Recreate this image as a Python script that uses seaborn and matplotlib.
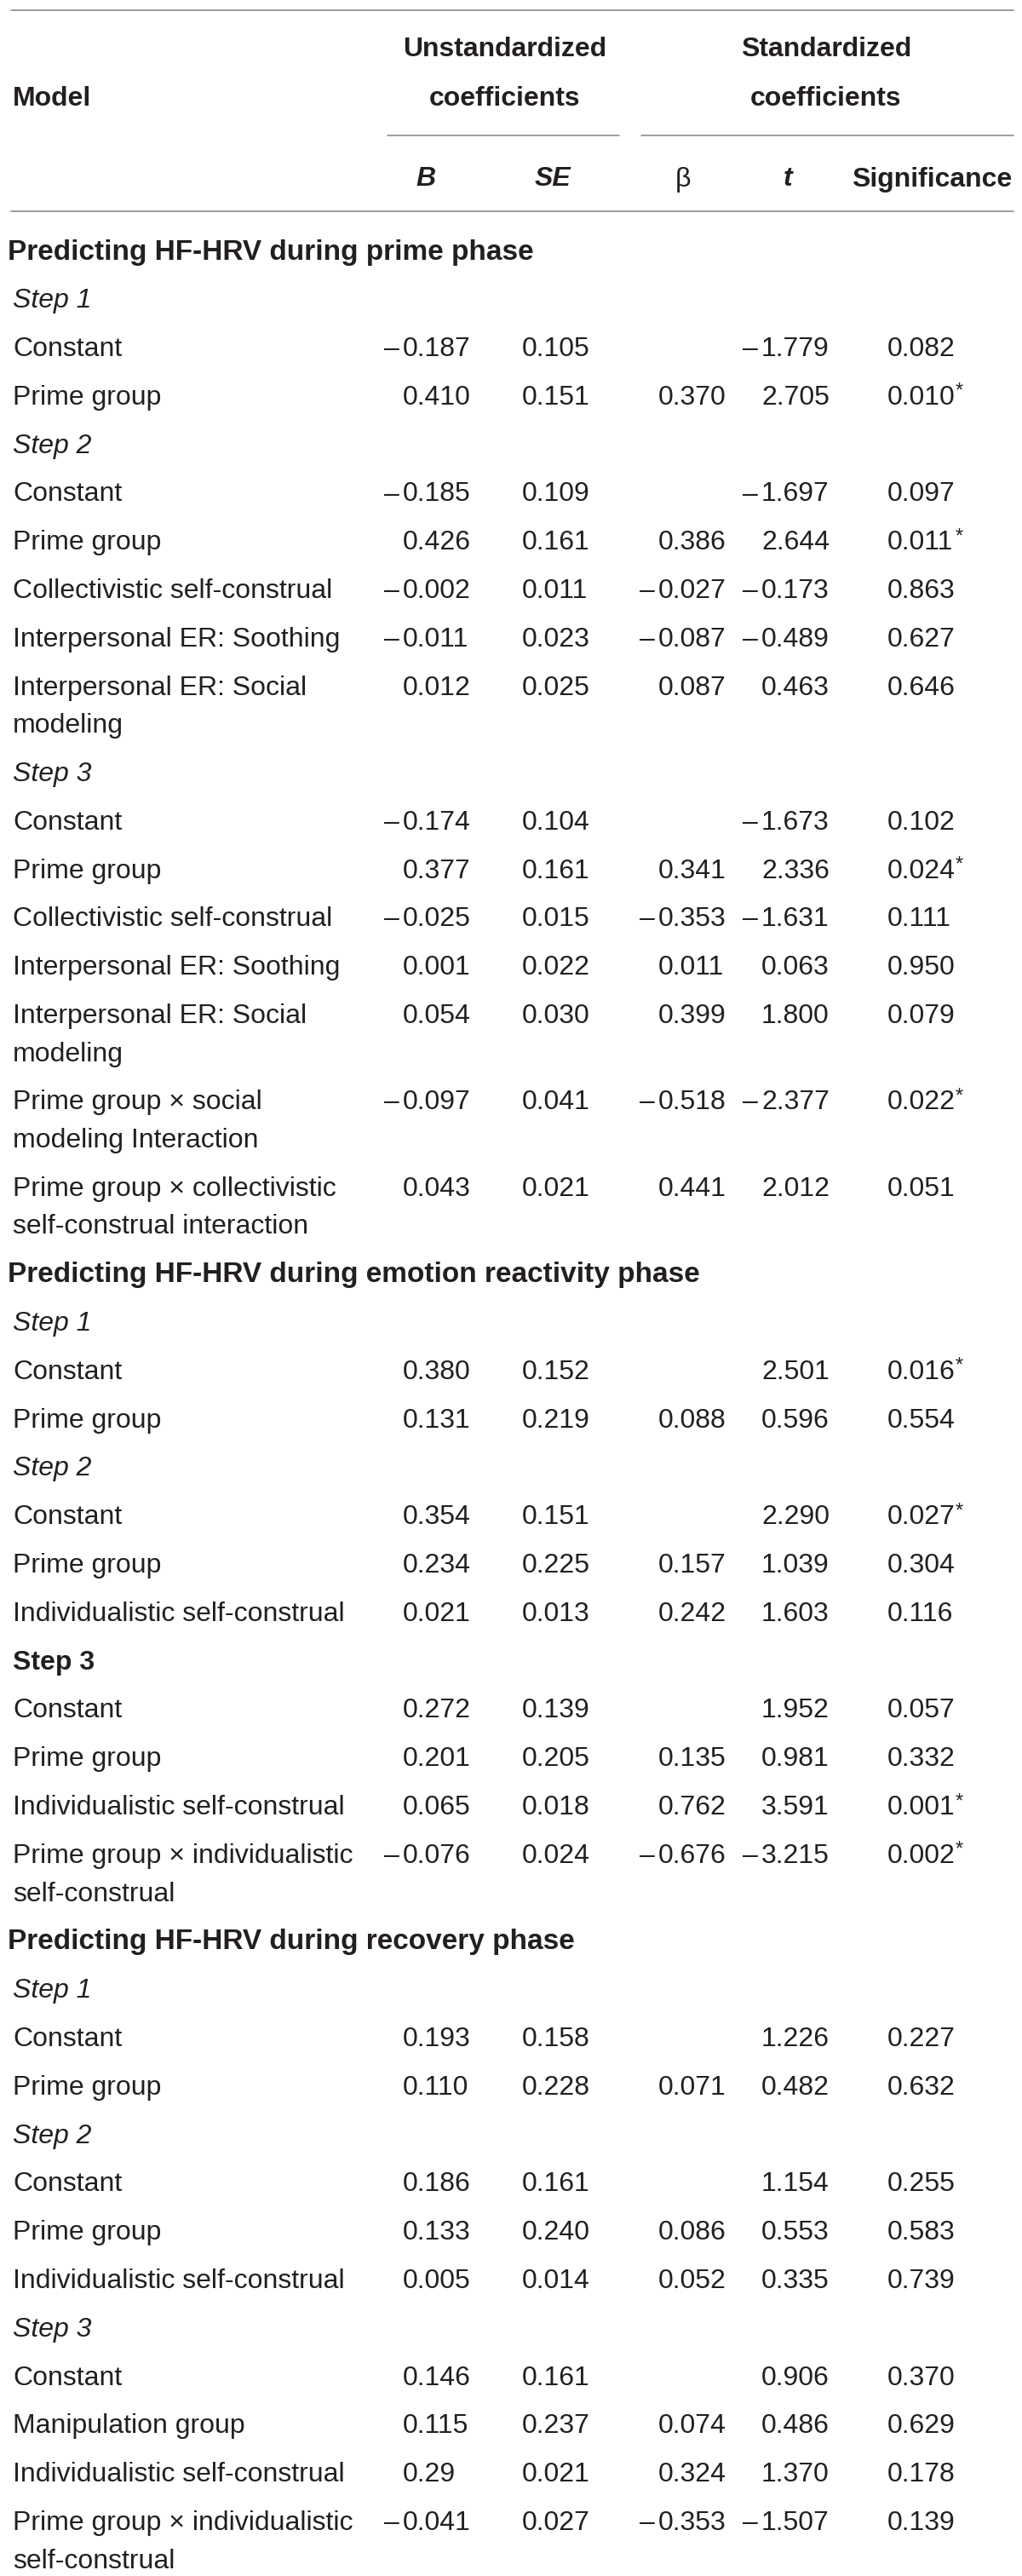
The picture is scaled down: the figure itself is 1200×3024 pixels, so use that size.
import matplotlib
matplotlib.use("Agg")
import matplotlib.pyplot as plt
import seaborn as sns

# table content, one entry per printed row
row_labels = [
    "Predicting HF-HRV during prime phase",
    "Step 1",
    "Constant",
    "Prime group",
    "Step 2",
    "Constant",
    "Prime group",
    "Collectivistic self-construal",
    "Interpersonal ER: Soothing",
    "Interpersonal ER: Social\nmodeling",
    "Step 3",
    "Constant",
    "Prime group",
    "Collectivistic self-construal",
    "Interpersonal ER: Soothing",
    "Interpersonal ER: Social\nmodeling",
    "Prime group \u00d7 social\nmodeling Interaction",
    "Prime group \u00d7 collectivistic\nself-construal interaction",
    "Predicting HF-HRV during emotion reactivity phase",
    "Step 1",
    "Constant",
    "Prime group",
    "Step 2",
    "Constant",
    "Prime group",
    "Individualistic self-construal",
    "Step 3",
    "Constant",
    "Prime group",
    "Individualistic self-construal",
    "Prime group \u00d7 individualistic\nself-construal",
    "Predicting HF-HRV during recovery phase",
    "Step 1",
    "Constant",
    "Prime group",
    "Step 2",
    "Constant",
    "Prime group",
    "Individualistic self-construal",
    "Step 3",
    "Constant",
    "Manipulation group",
    "Individualistic self-construal",
    "Prime group \u00d7 individualistic\nself-construal",
]

# section = bold heading, step = italic, stepb = bold step, data = value row
row_kinds = [
    "section", "step", "data", "data", "step", "data", "data", "data", "data", "data",
    "step", "data", "data", "data", "data", "data", "data", "data",
    "section", "step", "data", "data", "step", "data", "data", "data",
    "stepb", "data", "data", "data", "data",
    "section", "step", "data", "data", "step", "data", "data", "data",
    "step", "data", "data", "data", "data",
]

col_B = [
    "", "", "-0.187", "0.410", "", "-0.185", "0.426", "-0.002", "-0.011", "0.012",
    "", "-0.174", "0.377", "-0.025", "0.001", "0.054", "-0.097", "0.043",
    "", "", "0.380", "0.131", "", "0.354", "0.234", "0.021",
    "", "0.272", "0.201", "0.065", "-0.076",
    "", "", "0.193", "0.110", "", "0.186", "0.133", "0.005",
    "", "0.146", "0.115", "0.29", "-0.041",
]
col_SE = [
    "", "", "0.105", "0.151", "", "0.109", "0.161", "0.011", "0.023", "0.025",
    "", "0.104", "0.161", "0.015", "0.022", "0.030", "0.041", "0.021",
    "", "", "0.152", "0.219", "", "0.151", "0.225", "0.013",
    "", "0.139", "0.205", "0.018", "0.024",
    "", "", "0.158", "0.228", "", "0.161", "0.240", "0.014",
    "", "0.161", "0.237", "0.021", "0.027",
]
col_beta = [
    "", "", "", "0.370", "", "", "0.386", "-0.027", "-0.087", "0.087",
    "", "", "0.341", "-0.353", "0.011", "0.399", "-0.518", "0.441",
    "", "", "", "0.088", "", "", "0.157", "0.242",
    "", "", "0.135", "0.762", "-0.676",
    "", "", "", "0.071", "", "", "0.086", "0.052",
    "", "", "0.074", "0.324", "-0.353",
]
col_t = [
    "", "", "-1.779", "2.705", "", "-1.697", "2.644", "-0.173", "-0.489", "0.463",
    "", "-1.673", "2.336", "-1.631", "0.063", "1.800", "-2.377", "2.012",
    "", "", "2.501", "0.596", "", "2.290", "1.039", "1.603",
    "", "1.952", "0.981", "3.591", "-3.215",
    "", "", "1.226", "0.482", "", "1.154", "0.553", "0.335",
    "", "0.906", "0.486", "1.370", "-1.507",
]
col_sig = [
    "", "", "0.082", "0.010*", "", "0.097", "0.011*", "0.863", "0.627", "0.646",
    "", "0.102", "0.024*", "0.111", "0.950", "0.079", "0.022*", "0.051",
    "", "", "0.016*", "0.554", "", "0.027*", "0.304", "0.116",
    "", "0.057", "0.332", "0.001*", "0.002*",
    "", "", "0.227", "0.632", "", "0.255", "0.583", "0.739",
    "", "0.370", "0.629", "0.178", "0.139",
]

value_cols = [col_B, col_SE, col_beta, col_t, col_sig]

# layout (pixels, figure is 1200 x 3024)
W, H = 1200, 3024
col_x = [473, 613, 773, 894, 1042]
label_x = 15
first_row_y = 293
row_step = 56.8
wrap_step = 44.6
cap_half = 11.5
fs = 23
ink = "#231f20"
rule = "#8c8c8c"

sns.set_theme(style="white")
plt.rcParams["font.family"] = ["Liberation Sans", "DejaVu Sans"]

fig = plt.figure(figsize=(W / 100, H / 100), dpi=100)
ax = fig.add_axes([0, 0, 1, 1])
ax.set_xlim(0, W)
ax.set_ylim(H, 0)
ax.axis("off")


def put(x, yc, s, **kw):
    kw.setdefault("fontsize", fs)
    kw.setdefault("color", ink)
    ax.text(x, yc + cap_half, s, va="baseline", **kw)


def put_number(x, yc, s):
    if not s:
        return
    star = s.endswith("*")
    s = s.rstrip("*")
    if s.startswith("-"):
        # the source typesets the minus as a long dash hugging the digits
        put(x - 22, yc, "\u2013")
        s = s[1:]
    put(x, yc, s)
    if star:
        put(x + 80, yc - 9, "*", fontsize=17)


# header rules
ax.plot([13, 1190], [12, 12], color=rule, lw=1.2)
ax.plot([455, 727], [159, 159], color=rule, lw=1.2)
ax.plot([753, 1190], [159, 159], color=rule, lw=1.2)
ax.plot([13, 1190], [248, 248], color=rule, lw=1.2)

# header text
put(label_x, 112, "Model", fontweight="bold")
put(593, 55, "Unstandardized", fontweight="bold", ha="center")
put(593, 112, "coefficients", fontweight="bold", ha="center")
put(970, 55, "Standardized", fontweight="bold", ha="center")
put(970, 112, "coefficients", fontweight="bold", ha="center")
put(500, 207, "B", fontweight="bold", style="italic", ha="center")
put(649, 207, "SE", fontweight="bold", style="italic", ha="center")
put(802, 207, "\u03b2", ha="center")
put(925, 207, "t", fontweight="bold", style="italic", ha="center")
put(1094, 207, "Significance", fontweight="bold", ha="center")

# body
y = first_row_y
for i, (lab, kind) in enumerate(zip(row_labels, row_kinds)):
    lines = lab.split("\n")
    if kind == "section":
        put(9, y, lab, fontweight="bold", fontsize=24)
    elif kind == "step":
        put(label_x, y, lab, style="italic")
    elif kind == "stepb":
        put(label_x, y, lab, fontweight="bold")
    else:
        for j, ln in enumerate(lines):
            put(label_x, y + j * wrap_step, ln)
        for cx, col in zip(col_x, value_cols):
            put_number(cx, y, col[i])
    y += row_step + wrap_step * (len(lines) - 1)

fig.savefig("out.png", dpi=100, facecolor="white")
